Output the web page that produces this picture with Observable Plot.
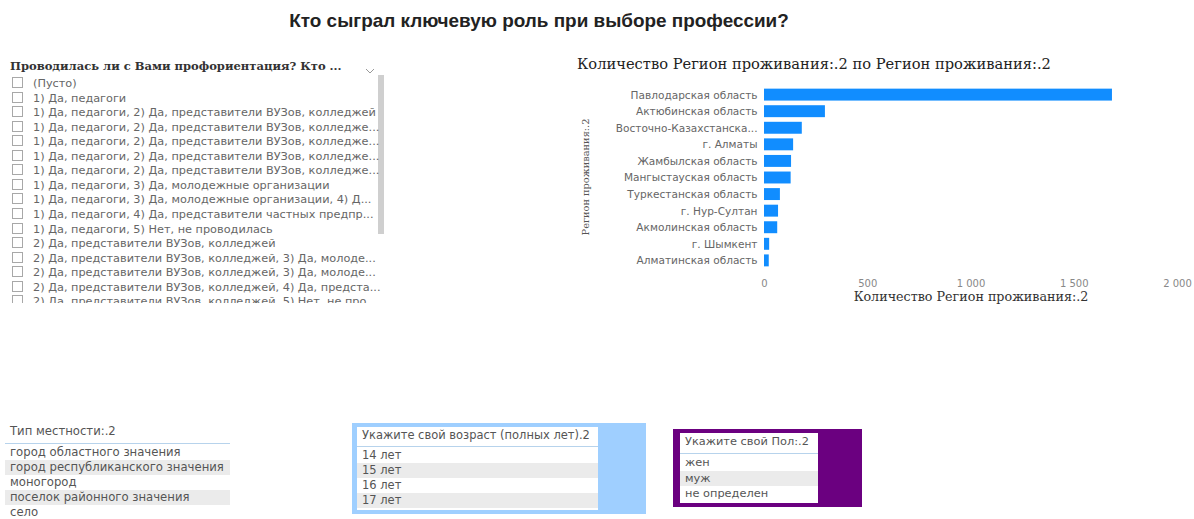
<!DOCTYPE html>
<html><head><meta charset="utf-8">
<script src="https://cdn.jsdelivr.net/npm/d3@7"></script>
<script src="https://cdn.jsdelivr.net/npm/@observablehq/plot@0.6"></script>
<style>
html,body{margin:0;padding:0;background:#fff;}
#root{position:relative;width:1194px;height:519px;overflow:hidden;font-family:"DejaVu Sans",sans-serif;}
.abs{position:absolute;white-space:nowrap;}
.item{color:#666;line-height:14.55px;height:14.55px;}
.cb{display:inline-block;width:9px;height:9px;border:1px solid #a8a8a8;margin-right:10px;vertical-align:-1px;}
.sl{color:#555;}
.row{position:absolute;height:15px;line-height:15px;color:#555;padding-left:5px;box-sizing:border-box;}
.alt{background:#ebebeb;}
</style></head>
<body><div id="root"></div>
<script>
const pageTitle = "Кто сыграл ключевую роль при выборе профессии?";
const listHeader = "Проводилась ли с Вами профориентация? Кто ...";
const listItems = [
  "(Пусто)",
  "1) Да, педагоги",
  "1) Да, педагоги, 2) Да, представители ВУЗов, колледжей",
  "1) Да, педагоги, 2) Да, представители ВУЗов, колледже...",
  "1) Да, педагоги, 2) Да, представители ВУЗов, колледже...",
  "1) Да, педагоги, 2) Да, представители ВУЗов, колледже...",
  "1) Да, педагоги, 2) Да, представители ВУЗов, колледже...",
  "1) Да, педагоги, 3) Да, молодежные организации",
  "1) Да, педагоги, 3) Да, молодежные организации, 4) Д...",
  "1) Да, педагоги, 4) Да, представители частных предпр...",
  "1) Да, педагоги, 5) Нет, не проводилась",
  "2) Да, представители ВУЗов, колледжей",
  "2) Да, представители ВУЗов, колледжей, 3) Да, молоде...",
  "2) Да, представители ВУЗов, колледжей, 3) Да, молоде...",
  "2) Да, представители ВУЗов, колледжей, 4) Да, предста...",
  "2) Да, представители ВУЗов, колледжей, 5) Нет, не про..."
];
const chartTitle = "Количество Регион проживания:.2 по Регион проживания:.2";
const regions = ["Павлодарская область","Актюбинская область","Восточно-Казахстанска...","г. Алматы","Жамбылская область","Мангыстауская область","Туркестанская область","г. Нур-Султан","Акмолинская область","г. Шымкент","Алматинская область"];
const counts = [1685, 295, 183, 141, 131, 129, 77, 68, 64, 25, 23];
const xTicks = [0, 500, 1000, 1500, 2000];
const yTitle = "Регион проживания:.2";
const xTitle = "Количество Регион проживания:.2";
const typeHeader = "Тип местности:.2";
const typeItems = ["город областного значения","город республиканского значения","моногород","поселок районного значения","село"];
const ageHeader = "Укажите свой возраст (полных лет).2";
const ageItems = ["14 лет","15 лет","16 лет","17 лет"];
const sexHeader = "Укажите свой Пол:.2";
const sexItems = ["жен","муж","не определен"];

const ctx = document.createElement("canvas").getContext("2d");
function fit(text, family, weight, target){
  ctx.font = `${weight} 100px ${family}`;
  return Math.floor(100*target/ctx.measureText(text).width*100)/100;
}
const SANS = "'DejaVu Sans'";
const SERIF = "'DejaVu Serif'";
const itemSize = Math.min(fit(listItems[2], SANS, "normal", 346), ...listItems.map(t=>fit(t, SANS, "normal", 348)));
const slSize = fit(typeItems[1], SANS, "normal", 214);
const ageSize = fit(ageHeader, SANS, "normal", 228);
const sexSize = fit(sexHeader, SANS, "normal", 124);
const titleSize = fit(pageTitle, "'Liberation Sans'", "bold", 500);
const chartTitleSize = fit(chartTitle, SERIF, "normal", 474);
const headerSize = fit(listHeader, SERIF, "bold", 332);
const xTitleSize = fit(xTitle, SERIF, "normal", 235);
const yTitleSize = fit(yTitle, SERIF, "normal", 117);
const yTickSize = fit(regions[0], SANS, "normal", 127);

const root = document.getElementById("root");
function el(tag, cls, style, text){const e=document.createElement(tag); if(cls) e.className=cls; if(style) e.setAttribute("style",style); if(text!=null) e.textContent=text; root.appendChild(e); return e;}

el("div","abs",`left:0;width:1078px;top:10px;text-align:center;font-family:'Liberation Sans',Arial,sans-serif;font-weight:bold;font-size:${titleSize}px;color:#222;`,pageTitle);

// left slicer
el("div","abs",`left:10px;top:59px;font-family:${SERIF};font-weight:bold;font-size:${headerSize}px;color:#333;`,listHeader);
const chev = el("div","abs","left:364px;top:61px;width:12px;height:10px;");
chev.innerHTML='<svg width="12" height="10"><polyline points="2,3 6,7 10,3" fill="none" stroke="#999" stroke-width="1"/></svg>';
el("div","abs","left:378px;top:75px;width:6px;height:159px;background:#cfcfcf;");
const listBox = el("div","abs","left:0;top:77px;width:386px;height:226px;overflow:hidden;");
listItems.forEach((t,i)=>{
  const r=document.createElement("div");
  r.className="abs item";
  r.setAttribute("style",`left:12px;top:${i*14.55}px;font-size:${itemSize}px;`);
  r.innerHTML='<span class="cb"></span>';
  r.appendChild(document.createTextNode(t));
  listBox.appendChild(r);
});

// bar chart
el("div","abs",`left:577px;top:55px;font-family:${SERIF};font-size:${chartTitleSize}px;color:#222;`,chartTitle);
el("div","abs",`left:585px;top:177px;transform:translate(-50%,-50%) rotate(-90deg);transform-origin:center;font-family:${SERIF};font-size:${yTitleSize}px;color:#555;`,yTitle);
el("div","abs",`left:971px;top:289px;transform:translateX(-50%);font-family:${SERIF};font-size:${xTitleSize}px;color:#333;`,xTitle);

const data = regions.map((r,i)=>({region:r,count:counts[i]}));
const fmt = d=>d3.format(",")(d).replace(/,/g," ");
const chart = Plot.plot({
  width: 634, height: 222,
  marginLeft: 204, marginRight: 17, marginTop: 9, marginBottom: 26,
  style: {fontFamily:"'DejaVu Sans',sans-serif", fontSize:"10px", color:"#777", background:"transparent"},
  x: {domain:[0,2000], label:null},
  y: {domain: regions, padding: 0.28, round:false, label:null},
  marks: [
    Plot.barX(data,{x:"count", y:"region", fill:"#118DFF"}),
    Plot.axisY({tickSize:0, tickPadding:7, label:null, fill:"#666", fontSize:yTickSize}),
    Plot.axisX({ticks:xTicks, tickSize:0, tickPadding:8, label:null, tickFormat:fmt, fill:"#888", fontSize:10})
  ]
});
chart.style.position="absolute"; chart.style.left="560px"; chart.style.top="75px";
root.appendChild(chart);

// Тип местности slicer
el("div","abs sl",`left:10px;top:424px;font-size:${slSize}px;`,typeHeader);
el("div","abs","left:5px;top:443px;width:225px;height:1px;background:#b7d3ec;");
typeItems.forEach((t,i)=>{
  el("div","row"+(i%2===1?" alt":""),`left:5px;top:${445+i*15}px;width:225px;font-size:${slSize}px;`,t);
});

// Age slicer
el("div","abs","left:352px;top:423px;width:294px;height:91px;background:#9fcfff;");
el("div","abs","left:357px;top:427px;width:241px;height:83px;background:#fff;");
el("div","abs sl",`left:362px;top:428px;font-size:${ageSize}px;`,ageHeader);
el("div","abs","left:357px;top:446px;width:241px;height:1px;background:#b7d3ec;");
ageItems.forEach((t,i)=>{
  el("div","row"+(i%2===1?" alt":""),`left:357px;top:${448+i*15}px;width:241px;font-size:${ageSize}px;`,t);
});

// Sex slicer
el("div","abs","left:673px;top:429px;width:189px;height:78px;background:#6b0080;");
el("div","abs","left:680px;top:433px;width:138px;height:70px;background:#fff;");
el("div","abs sl",`left:685px;top:434px;font-size:${sexSize}px;`,sexHeader);
el("div","abs","left:680px;top:453px;width:138px;height:1px;background:#b7d3ec;");
sexItems.forEach((t,i)=>{
  el("div","row"+(i%2===1?" alt":""),`left:680px;top:${455+i*15.5}px;width:138px;font-size:${sexSize}px;`,t);
});
</script>
</body></html>
